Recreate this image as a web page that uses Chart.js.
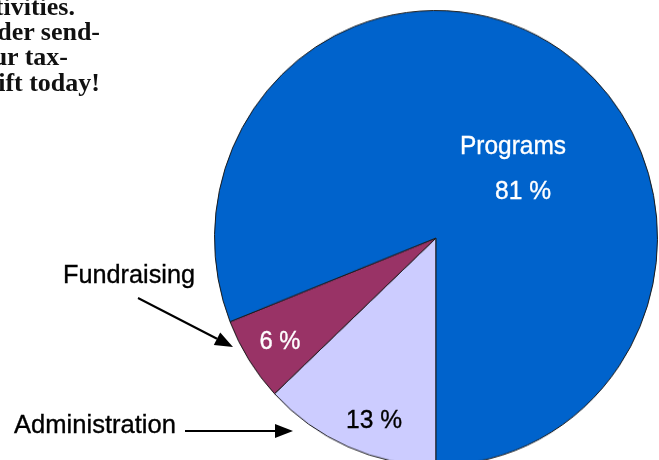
<!DOCTYPE html>
<html>
<head>
<meta charset="utf-8">
<script src="https://cdn.jsdelivr.net/npm/chart.js@4/dist/chart.umd.min.js"></script>
<style>
  html, body { margin: 0; padding: 0; background: #fff; }
  body { width: 659px; height: 460px; position: relative; overflow: hidden; }
  #pieBox {
    position: absolute; left: 206px; top: 8px; width: 460px; height: 460px;
    transform: scaleY(1.027); transform-origin: 230px 230px;
  }
  #overlay { position: absolute; left: 0; top: 0; }
  .lbl { font-family: "Liberation Sans", Arial, sans-serif; font-size: 25px; stroke-width: 0.35px; }
  .para { font-family: "Liberation Serif", serif; font-weight: bold; font-size: 26px; }
</style>
</head>
<body>
<div id="pieBox"><canvas id="pie"></canvas></div>
<svg id="overlay" width="659" height="460"></svg>
<script>
// slices, clockwise from 6 o'clock
const categories = ["Administration", "Fundraising", "Programs"];
const shares = [13, 6, 81];
const sliceColors = ["#CCCCFF", "#993366", "#0063CC"];

// bits of the letter text that sit at the top left
const paraLines = ["tivities.", "der send-", "ur tax-", "ift today!"];

new Chart("pie", {
  type: "pie",
  data: {
    labels: categories,
    datasets: [{
      data: shares,
      backgroundColor: sliceColors,
      borderColor: "#1a1a1a",
      borderWidth: 1
    }]
  },
  options: {
    responsive: true,
    maintainAspectRatio: false,
    animation: false,
    events: [],
    rotation: 180,
    layout: { padding: 8 },
    plugins: {
      legend: { display: false },
      tooltip: { enabled: false },
      title: { display: false }
    }
  }
});

// text and arrows over the chart
const svg = document.getElementById("overlay");
const NS = "http://www.w3.org/2000/svg";

function addText(str, x, y, cls, fill, anchor, width) {
  const t = document.createElementNS(NS, "text");
  t.setAttribute("x", x);
  t.setAttribute("y", y);
  t.setAttribute("class", cls);
  t.setAttribute("fill", fill);
  if (cls === "lbl") t.setAttribute("stroke", fill);
  t.setAttribute("text-anchor", anchor);
  if (width) {
    t.setAttribute("textLength", width);
    t.setAttribute("lengthAdjust", "spacingAndGlyphs");
  }
  t.textContent = str;
  svg.appendChild(t);
}

function addArrow(x1, y1, x2, y2) {
  const ang = Math.atan2(y2 - y1, x2 - x1);
  const len = 18, half = 7;
  const bx = x2 - len * Math.cos(ang), by = y2 - len * Math.sin(ang);
  const line = document.createElementNS(NS, "line");
  line.setAttribute("x1", x1); line.setAttribute("y1", y1);
  line.setAttribute("x2", bx); line.setAttribute("y2", by);
  line.setAttribute("stroke", "#000");
  line.setAttribute("stroke-width", "2");
  svg.appendChild(line);
  const px = -Math.sin(ang) * half, py = Math.cos(ang) * half;
  const head = document.createElementNS(NS, "polygon");
  head.setAttribute("points",
    x2 + "," + y2 + " " + (bx + px) + "," + (by + py) + " " + (bx - px) + "," + (by - py));
  head.setAttribute("fill", "#000");
  svg.appendChild(head);
}

// top left paragraph (cut off by the page edge)
const paraEnds = [75, 100, 68, 100];
const paraBase = [15, 40, 65, 91];
paraLines.forEach((s, i) => addText(s, paraEnds[i], paraBase[i], "para", "#111", "end"));

// slice labels
addText(categories[2], 513, 154, "lbl", "#fff", "middle", 106);
addText(shares[2] + " %", 523, 199, "lbl", "#fff", "middle", 56);
addText(shares[1] + " %", 280, 349, "lbl", "#fff", "middle", 41);
addText(shares[0] + " %", 374, 428, "lbl", "#000", "middle", 56);

// outside labels with arrows
addText(categories[1], 129, 283, "lbl", "#000", "middle", 132);
addText(categories[0], 95, 433, "lbl", "#000", "middle", 162);
addArrow(138, 298, 233, 347);
addArrow(185, 431, 293, 431);
</script>
</body>
</html>
